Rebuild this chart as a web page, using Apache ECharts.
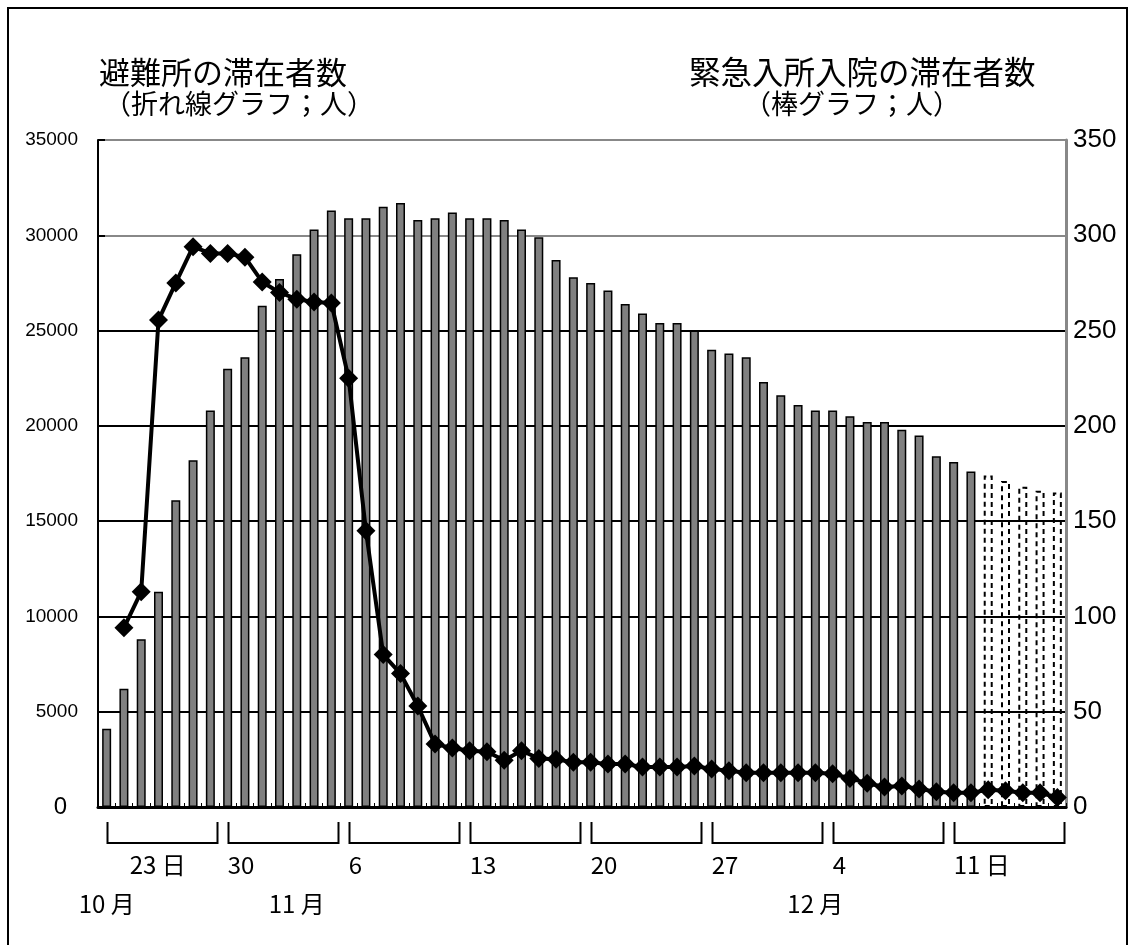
<!DOCTYPE html>
<html><head><meta charset="utf-8">
<script src="https://cdn.jsdelivr.net/npm/echarts@6/dist/echarts.min.js"></script>
<style>html,body{margin:0;padding:0;background:#fff}#c{width:1132px;height:945px}</style>
</head><body><div id="c"></div>
<script>
// Dates: 2004-10-23 .. 2004-12-17
const categories = [
  '10/23','10/24','10/25','10/26','10/27','10/28','10/29','10/30','10/31',
  '11/1','11/2','11/3','11/4','11/5','11/6','11/7','11/8','11/9','11/10',
  '11/11','11/12','11/13','11/14','11/15','11/16','11/17','11/18','11/19','11/20',
  '11/21','11/22','11/23','11/24','11/25','11/26','11/27','11/28','11/29','11/30',
  '12/1','12/2','12/3','12/4','12/5','12/6','12/7','12/8','12/9','12/10',
  '12/11','12/12','12/13','12/14','12/15','12/16','12/17'
];
// 避難所の滞在者数 (line, left axis, 人)
const shelterStay = [
  null, 9400, 11300, 25550, 27500, 29400, 29050, 29050, 28850, 27550,
  27000, 26650, 26500, 26450, 22500, 14500, 8000, 7000, 5300, 3300,
  3100, 2950, 2900, 2450, 2950, 2550, 2500, 2350, 2350, 2250,
  2250, 2100, 2100, 2100, 2150, 2000, 1900, 1800, 1800, 1800,
  1800, 1800, 1750, 1500, 1250, 1050, 1100, 950, 800, 750,
  750, 900, 850, 750, 750, 500
];
// 緊急入所入院の滞在者数 (bars, right axis, 人)
const careStay = [
  41, 62, 88, 113, 161, 182, 208, 230, 236, 263,
  277, 290, 303, 313, 309, 309, 315, 317, 308, 309,
  312, 309, 309, 308, 303, 299, 287, 278, 275, 271,
  264, 259, 254, 254, 250, 240, 238, 236, 223, 216,
  211, 208, 208, 205, 202, 202, 198, 195, 184, 181,
  176, 174, 171, 168, 166, 165
];
const estimateFrom = '12/13'; // dashed bars from this date on
const weekLabels = ['23 日', '30', '6', '13', '20', '27', '4', '11 日'];
const weekStarts = ['10/23', '10/30', '11/6', '11/13', '11/20', '11/27', '12/4', '12/11'];
const monthLabels = ['10 月', '11 月', '12 月'];
const monthLabelAt = ['10/23', '11/3', '12/3'];

const JP = '"Noto Sans CJK JP", sans-serif';
const chart = echarts.init(document.getElementById('c'), null, {renderer: 'canvas'});
const estIdx = categories.indexOf(estimateFrom);

const barData = careStay.map((v, i) => i >= estIdx ? {
  value: v,
  itemStyle: {color: 'rgba(255,255,255,0)', borderColor: '#000', borderWidth: 2, borderType: [5, 4]}
} : v);

const option = {
  animation: false,
  backgroundColor: '#fff',
  grid: {left: 98, right: 66, top: 140, bottom: 138},
  xAxis: [{
    type: 'category', data: categories, boundaryGap: true,
    axisLine: {lineStyle: {color: '#000', width: 3}},
    axisTick: {show: true, inside: true, length: 4, interval: 0, lineStyle: {color: '#000', width: 1}},
    axisLabel: {
      interval: (i, v) => weekStarts.indexOf(v) >= 0,
      formatter: (v) => {
        const k = weekStarts.indexOf(v);
        return k === 0 ? '{f|' + weekLabels[k] + '}' : weekLabels[k];
      },
      rich: {f: {fontSize: 24, fontFamily: JP, color: '#000', padding: [0, 0, 0, 23]}},
      align: 'left', margin: 46, fontSize: 24, fontFamily: JP, color: '#000'
    },
    splitLine: {show: false}
  }, {
    type: 'category', data: categories, position: 'bottom', gridIndex: 0,
    axisLine: {show: false}, axisTick: {show: false},
    axisLabel: {
      interval: (i, v) => monthLabelAt.indexOf(v) >= 0,
      formatter: (v) => monthLabels[monthLabelAt.indexOf(v)],
      align: 'center', margin: 85, fontSize: 24, fontFamily: JP, color: '#000'
    },
    splitLine: {show: false}
  }],
  yAxis: [{
    type: 'value', min: 0, max: 35000, interval: 5000, position: 'left',
    axisLine: {show: true, lineStyle: {color: '#000', width: 2}},
    axisTick: {show: true, inside: true, length: 7, lineStyle: {color: '#000', width: 2}},
    axisLabel: {
      fontSize: 19, fontFamily: '"Liberation Sans", Arial, sans-serif', color: '#000', margin: 20,
      formatter: (v) => v === 0 ? '{z|0}' : String(v),
      rich: {z: {fontSize: 24, fontFamily: '"Liberation Sans", Arial, sans-serif', color: '#000', padding: [0, 11, 0, 0]}}
    },
    splitLine: {show: true, lineStyle: {color: ['#000', '#000', '#000', '#000', '#000', '#000', '#888', '#888'], width: 2}}
  }, {
    type: 'value', min: 0, max: 350, interval: 50, position: 'right',
    axisLine: {show: true, lineStyle: {color: '#888', width: 3}},
    axisTick: {show: false},
    axisLabel: {fontSize: 26, fontFamily: '"Liberation Sans", Arial, sans-serif', color: '#000', margin: 7},
    splitLine: {show: false}
  }],
  series: [{
    name: '緊急入所入院の滞在者数', type: 'bar', xAxisIndex: 0, yAxisIndex: 1,
    data: barData, barWidth: 9,
    itemStyle: {color: '#808080', borderColor: '#000', borderWidth: 1.5},
    z: 2
  }, {
    name: '避難所の滞在者数', type: 'line', xAxisIndex: 0, yAxisIndex: 0,
    data: shelterStay, symbol: 'diamond', symbolSize: 19, showAllSymbol: true, connectNulls: false,
    lineStyle: {color: '#000', width: 4}, itemStyle: {color: '#000'},
    z: 5
  }]
};
chart.setOption(option);

// Annotation graphics: frame, titles, week brackets
const px = (i) => chart.convertToPixel({xAxisIndex: 0}, i);
const bw = px(1) - px(0);
const graphics = [
  {type: 'rect', silent: true, shape: {x: 8, y: 8, width: 1119, height: 960},
   style: {fill: 'none', stroke: '#000', lineWidth: 2}},
  {type: 'text', silent: true, x: 99, y: 72,
   style: {text: '避難所の滞在者数', font: '31px ' + JP, fill: '#000', align: 'left', verticalAlign: 'middle', textAlign: 'left', textVerticalAlign: 'middle'}},
  {type: 'text', silent: true, x: 104, y: 104,
   style: {text: '（折れ線グラフ；人）', font: '27px ' + JP, fill: '#000', align: 'left', verticalAlign: 'middle', textAlign: 'left', textVerticalAlign: 'middle'}},
  {type: 'text', silent: true, x: 689, y: 72,
   style: {text: '緊急入所入院の滞在者数', font: '31.5px ' + JP, fill: '#000', align: 'left', verticalAlign: 'middle', textAlign: 'left', textVerticalAlign: 'middle'}},
  {type: 'text', silent: true, x: 744, y: 104,
   style: {text: '（棒グラフ；人）', font: '27px ' + JP, fill: '#000', align: 'left', verticalAlign: 'middle', textAlign: 'left', textVerticalAlign: 'middle'}}
];
weekStarts.forEach((d, k) => {
  const s = categories.indexOf(d);
  const e = Math.min(s + 6, categories.length - 1);
  const xl = Math.round(px(s) - bw / 2 + 9) + 0.5;
  const xr = Math.round(px(e) + bw / 2 - 2) + 0.5;
  graphics.push({type: 'polyline', silent: true,
    shape: {points: [[xl, 822], [xl, 843], [xr, 843], [xr, 822]]},
    style: {fill: 'none', stroke: '#000', lineWidth: 2}});
});
chart.setOption({graphic: graphics});
</script></body></html>
